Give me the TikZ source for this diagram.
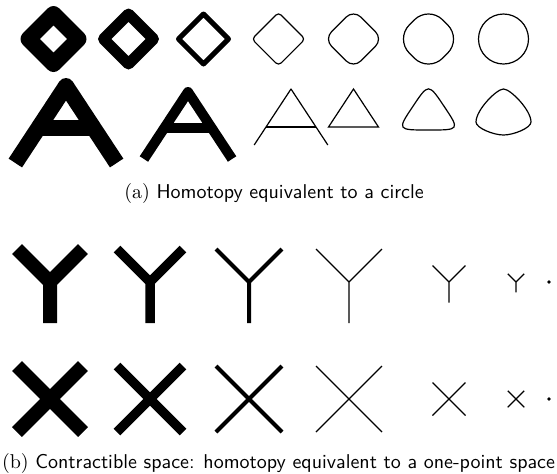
\documentclass[tikz,border=0pt]{standalone}
\newlength{\pxsize}
\setlength{\pxsize}{0.5pt}
\begin{document}
\begin{tikzpicture}[x=\pxsize, y=-\pxsize,
		thin line/.style={line width=1.2*\pxsize},
		caption/.style={anchor=base, inner sep=0pt}]
		\useasboundingbox (0,0) rectangle (557,473);
		% diamonds getting thinner
		\foreach \cx/\w in {53.5/16, 128.5/11, 203.5/5} {
				\draw[line width=\w*\pxsize, line join=round] (\cx+12.5,26.5) -- (\cx,14) -- (\cx-25,39) -- (\cx,64) -- (\cx+25,39) -- cycle;
			}
		% diamonds getting rounder
		\foreach \cx/\R/\r in {278.5/26.6/3.8, 353.5/29.3/10.4, 428.5/33.3/20} {
				\draw[thin line, rounded corners=\r*\pxsize] (\cx+\R/2,39-\R/2) -- (\cx,39-\R) -- (\cx-\R,39) -- (\cx,39+\R) -- (\cx+\R,39) -- (\cx+\R/2,39-\R/2);
			}
		\draw[thin line] (503.5,39) circle[radius=25];
		% the letter A losing its legs
		\foreach \cx/\ay/\cy/\fy/\w in {66/86/128/163/16, 188/92/128/159/10, 291/89/127/145/1.2} {
				\draw[line width=\w*\pxsize, line join=round] ({\cx-0.658*(\fy-\ay)},\fy) -- (\cx,\ay) -- ({\cx+0.658*(\fy-\ay)},\fy);
				\draw[line width=\w*\pxsize] ({\cx-0.658*(\cy-\ay)},\cy) -- ({\cx+0.658*(\cy-\ay)},\cy);
			}
		\draw[thin line] (353.5,89) -- (378.5,127) -- (328.5,127) -- cycle;
		\draw[thin line] (444.2,106.5) .. controls (459.9,130) and (459.9,130) .. (428.5,130) .. controls (397.1,130) and (397.1,130) .. (412.8,106.5) .. controls (428.5,83) and (428.5,83) .. (444.2,106.5) -- cycle;
		\draw[thin line] (503.5,89) .. controls (510.5,89) and (531,110) .. (531,122) .. controls (531,128) and (513.5,135) .. (503.5,135) .. controls (493.5,135) and (476,128) .. (476,122) .. controls (476,110) and (496.5,89) .. (503.5,89) -- cycle;
		% Y shapes
		\foreach \cx/\w in {50/14, 150/9.5, 249/4, 349/1.2} {
				\draw[line width=\w*\pxsize] (\cx-33,249) -- (\cx,282) -- (\cx+33,249) (\cx,282) -- (\cx,323);
			}
		\foreach \cx/\s in {449/0.5, 516/0.25} {
				\draw[thin line] ({\cx-33*\s},{282-33*\s}) -- (\cx,282) -- ({\cx+33*\s},{282-33*\s}) (\cx,282) -- (\cx,{282+41*\s});
			}
		\fill (549,282) circle[radius=1.8];
		% X shapes
		\foreach \cx/\w in {50/14, 150/9.5, 249/4, 349/1.2} {
				\draw[line width=\w*\pxsize] (\cx-33,366) -- (\cx+33,432) (\cx-33,432) -- (\cx+33,366);
			}
		\foreach \cx/\s in {449/0.5, 516/0.25} {
				\draw[thin line] ({\cx-33*\s},{399-33*\s}) -- ({\cx+33*\s},{399+33*\s}) ({\cx-33*\s},{399+33*\s}) -- ({\cx+33*\s},{399-33*\s});
			}
		\fill (549,399) circle[radius=1.8];
		\node[caption] (capa) at (274,198) {(a) \textsf{Homotopy equivalent to a circle}};
		\node[caption] (capb) at (278.5,468) {(b) \textsf{Contractible space: homotopy equivalent to a one-point space}};
	\end{tikzpicture}
\end{document}
